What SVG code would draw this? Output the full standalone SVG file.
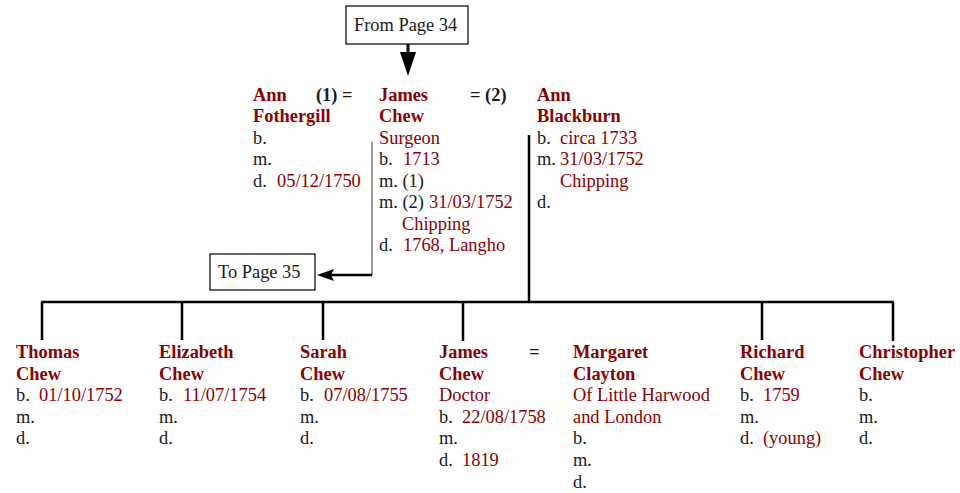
<svg xmlns="http://www.w3.org/2000/svg" width="960" height="493" viewBox="0 0 960 493">
<style>
text{font-family:"Liberation Serif","Times New Roman",serif;font-size:18.4px;fill:#1a1a1a}
.n{font-weight:bold;fill:#8b0000}
.r{fill:#8b0000}
.eq{font-weight:bold;fill:#1a1a1a}
.box{fill:#fff;stroke:#000;stroke-width:1.2}
.ln{stroke:#000;stroke-width:2.5;fill:none}
</style>
<g id="connectors">
<line x1="408" y1="44" x2="408" y2="54" stroke="#000" stroke-width="3"/>
<path d="M400,52 L416,52 L408,76 Z" fill="#000"/>
<line x1="372" y1="142" x2="372" y2="275" stroke="#777" stroke-width="1.5"/>
<line x1="372" y1="275" x2="326" y2="275" stroke="#000" stroke-width="2.5"/>
<path d="M317,275 L334,269 L331,275 L334,281 Z" fill="#000"/>
<line class="ln" x1="529" y1="135" x2="529" y2="302"/>
<line class="ln" x1="41" y1="302" x2="894" y2="302"/>
<line class="ln" x1="42" y1="302" x2="42" y2="340"/>
<line class="ln" x1="182" y1="302" x2="182" y2="340"/>
<line class="ln" x1="323" y1="302" x2="323" y2="340"/>
<line class="ln" x1="463" y1="302" x2="463" y2="341"/>
<line class="ln" x1="762" y1="302" x2="762" y2="340"/>
<line class="ln" x1="893" y1="302" x2="893" y2="341"/>
</g>
<g id="from34">
<rect class="box" x="346" y="6" width="122" height="38"/>
<text x="354" y="31">From Page 34</text>
</g>
<g id="to35">
<rect class="box" x="210" y="254" width="105" height="36"/>
<text x="218" y="278">To Page 35</text>
</g>
<g id="annfothergill">
<text class="n" x="253" y="101">Ann</text>
<text class="n" x="253" y="122">Fothergill</text>
<text x="253" y="144">b.</text>
<text x="253" y="165">m.</text>
<text x="253" y="187">d.</text><text class="r" x="277" y="187">05/12/1750</text>
</g>
<text class="eq" x="316" y="101">(1) =</text>
<g id="jameschew">
<text class="n" x="379" y="101">James</text>
<text class="n" x="379" y="122">Chew</text>
<text class="r" x="379" y="144">Surgeon</text>
<text x="379" y="165">b.</text><text class="r" x="403" y="165">1713</text>
<text x="379" y="187">m. (1)</text>
<text x="379" y="208">m. (2)</text><text class="r" x="429" y="208">31/03/1752</text>
<text class="r" x="402" y="230">Chipping</text>
<text x="379" y="251">d.</text><text class="r" x="403" y="251">1768, Langho</text>
</g>
<text class="eq" x="470" y="101">= (2)</text>
<g id="annblackburn">
<text class="n" x="537" y="101">Ann</text>
<text class="n" x="537" y="122">Blackburn</text>
<text x="537" y="144">b.</text><text class="r" x="560" y="144">circa 1733</text>
<text x="537" y="165">m.</text><text class="r" x="560" y="165">31/03/1752</text>
<text class="r" x="560" y="187">Chipping</text>
<text x="537" y="208">d.</text>
</g>
<g id="thomas">
<text class="n" x="16" y="358">Thomas</text>
<text class="n" x="16" y="380">Chew</text>
<text x="16" y="401">b.</text><text class="r" x="39" y="401">01/10/1752</text>
<text x="16" y="423">m.</text>
<text x="16" y="444">d.</text>
</g>
<g id="elizabeth">
<text class="n" x="159" y="358">Elizabeth</text>
<text class="n" x="159" y="380">Chew</text>
<text x="159" y="401">b.</text><text class="r" x="183" y="401">11/07/1754</text>
<text x="159" y="423">m.</text>
<text x="159" y="444">d.</text>
</g>
<g id="sarah">
<text class="n" x="300" y="358">Sarah</text>
<text class="n" x="300" y="380">Chew</text>
<text x="300" y="401">b.</text><text class="r" x="324" y="401">07/08/1755</text>
<text x="300" y="423">m.</text>
<text x="300" y="444">d.</text>
</g>
<g id="jameschew2">
<text class="n" x="439" y="358">James</text>
<text class="n" x="439" y="380">Chew</text>
<text class="r" x="439" y="401">Doctor</text>
<text x="439" y="423">b.</text><text class="r" x="462" y="423">22/08/1758</text>
<text x="439" y="444">m.</text>
<text x="439" y="466">d.</text><text class="r" x="462" y="466">1819</text>
</g>
<text class="eq" x="529" y="358">=</text>
<g id="margaret">
<text class="n" x="573" y="358">Margaret</text>
<text class="n" x="573" y="380">Clayton</text>
<text class="r" x="573" y="401">Of Little Harwood</text>
<text class="r" x="573" y="423">and London</text>
<text x="573" y="444">b.</text>
<text x="573" y="466">m.</text>
<text x="573" y="488">d.</text>
</g>
<g id="richard">
<text class="n" x="740" y="358">Richard</text>
<text class="n" x="740" y="380">Chew</text>
<text x="740" y="401">b.</text><text class="r" x="763" y="401">1759</text>
<text x="740" y="423">m.</text>
<text x="740" y="444">d.</text><text class="r" x="763" y="444">(young)</text>
</g>
<g id="christopher">
<text class="n" x="859" y="358">Christopher</text>
<text class="n" x="859" y="380">Chew</text>
<text x="859" y="401">b.</text>
<text x="859" y="423">m.</text>
<text x="859" y="444">d.</text>
</g>
</svg>
